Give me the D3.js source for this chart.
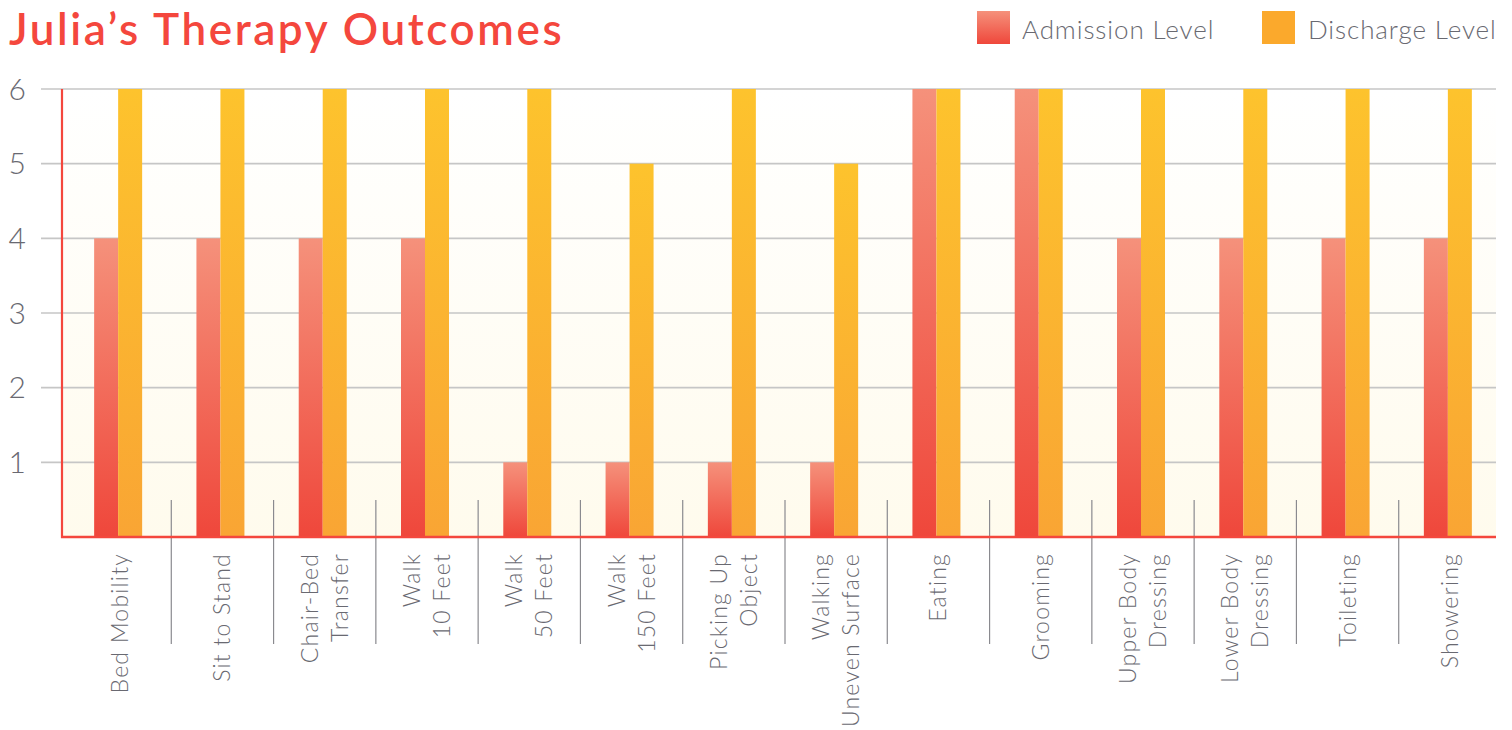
<!DOCTYPE html>
<html>
<head>
<meta charset="utf-8">
<script src="https://cdn.jsdelivr.net/npm/d3@7"></script>
<style>
  html, body { margin: 0; padding: 0; background: #ffffff; }
  svg { display: block; }
  text { font-family: Lato, "Noto Sans", sans-serif; }
</style>
</head>
<body>
<svg id="chart" width="1512" height="730"></svg>
<script>
const categories = [
  ["Bed Mobility"], ["Sit to Stand"], ["Chair-Bed", "Transfer"], ["Walk", "10  Feet"],
  ["Walk", "50 Feet"], ["Walk", "150 Feet"], ["Picking Up", "Object"], ["Walking", "Uneven Surface"],
  ["Eating"], ["Grooming"], ["Upper Body", "Dressing"], ["Lower Body", "Dressing"],
  ["Toileting"], ["Showering"]
];
const admission = [4, 4, 4, 4, 1, 1, 1, 1, 6, 6, 4, 4, 4, 4];
const discharge = [6, 6, 6, 6, 6, 5, 6, 5, 6, 6, 6, 6, 6, 6];
const seriesNames = ["Admission Level", "Discharge Level"];
const yTicks = [1, 2, 3, 4, 5, 6];

const svg = d3.select("#chart");
const plotLeft = 62, plotRight = 1496, plotTop = 89, plotBottom = 537;
const keys = categories.map((c, i) => i);

const y = d3.scaleLinear().domain([0, 6]).range([plotBottom, plotTop]);
const x0 = d3.scaleBand().domain(keys).range([69, 1501]);
const x1 = d3.scaleBand().domain(seriesNames).range([0, 48]);
const groupOffset = (x0.bandwidth() - 48) / 2 - 2;

const defs = svg.append("defs");
const bg = defs.append("linearGradient").attr("id", "bg").attr("x1", 0).attr("y1", 0).attr("x2", 0).attr("y2", 1);
bg.append("stop").attr("offset", "0%").attr("stop-color", "#ffffff");
bg.append("stop").attr("offset", "100%").attr("stop-color", "#fffbed");
const ga = defs.append("linearGradient").attr("id", "gA").attr("x1", 0).attr("y1", 0).attr("x2", 0).attr("y2", 1);
ga.append("stop").attr("offset", "0%").attr("stop-color", "#f5917b");
ga.append("stop").attr("offset", "100%").attr("stop-color", "#ef473b");
const gd = defs.append("linearGradient").attr("id", "gD").attr("x1", 0).attr("y1", 0).attr("x2", 0).attr("y2", 1);
gd.append("stop").attr("offset", "0%").attr("stop-color", "#fdc32d");
gd.append("stop").attr("offset", "100%").attr("stop-color", "#f9a534");

// background
svg.append("rect").attr("x", plotLeft).attr("y", plotTop)
  .attr("width", plotRight - plotLeft).attr("height", plotBottom - plotTop)
  .attr("fill", "url(#bg)");

// gridlines
svg.append("g").selectAll("line").data(yTicks).join("line")
  .attr("x1", 41).attr("x2", plotRight)
  .attr("y1", d => y(d)).attr("y2", d => y(d))
  .attr("stroke", "#c6c6c6").attr("stroke-width", 1.6);

// y labels
svg.append("g").selectAll("text").data(yTicks).join("text")
  .attr("x", 26).attr("y", d => y(d)).attr("dy", "0.36em")
  .attr("text-anchor", "end").attr("font-size", 30).attr("font-weight", 300)
  .attr("fill", "#696971").text(d => d);

// separators
svg.append("g").selectAll("line").data(keys.slice(1)).join("line")
  .attr("x1", d => x0(d)).attr("x2", d => x0(d))
  .attr("y1", 500).attr("y2", 644)
  .attr("stroke", "#8a8a8f").attr("stroke-width", 1.2);

// bars
const groups = svg.append("g").selectAll("g").data(keys).join("g")
  .attr("transform", d => `translate(${x0(d) + groupOffset},0)`);
groups.append("rect")
  .attr("x", x1("Admission Level")).attr("width", x1.bandwidth())
  .attr("y", d => y(admission[d])).attr("height", d => y(0) - y(admission[d]))
  .attr("fill", "url(#gA)");
groups.append("rect")
  .attr("x", x1("Discharge Level")).attr("width", x1.bandwidth())
  .attr("y", d => y(discharge[d])).attr("height", d => y(0) - y(discharge[d]))
  .attr("fill", "url(#gD)");

// axis lines
svg.append("line").attr("x1", plotLeft).attr("x2", plotLeft).attr("y1", plotTop).attr("y2", plotBottom + 1)
  .attr("stroke", "#f4473d").attr("stroke-width", 2.2);
svg.append("line").attr("x1", plotLeft - 1).attr("x2", plotRight).attr("y1", plotBottom).attr("y2", plotBottom)
  .attr("stroke", "#f4473d").attr("stroke-width", 2.4);

// category labels
const lab = svg.append("g").selectAll("g").data(keys).join("g")
  .attr("transform", d => `translate(${x0(d) + x0.bandwidth() / 2},553) rotate(-90)`);
lab.each(function(d) {
  const lines = categories[d];
  const n = lines.length;
  d3.select(this).selectAll("text").data(lines).join("text")
    .attr("x", 0).attr("y", (t, i) => (i - (n - 1) / 2) * 30)
    .attr("dy", "0.35em")
    .attr("text-anchor", "end").attr("font-size", 23).attr("font-weight", 300)
    .attr("letter-spacing", 1.2)
    .attr("fill", "#696971").text(t => t);
});

// title
svg.append("text").attr("x", 9).attr("y", 45)
  .attr("font-size", 44).attr("font-weight", 600).attr("fill", "#f4473d")
  .attr("letter-spacing", 2.6)
  .text("Julia’s Therapy Outcomes");

// legend
const legend = [
  { name: seriesNames[0], fill: "url(#gA)", x: 977, tx: 1022 },
  { name: seriesNames[1], fill: "#fba92c", x: 1262, tx: 1308 }
];
const lg = svg.append("g").selectAll("g").data(legend).join("g");
lg.append("rect").attr("x", d => d.x).attr("y", 11).attr("width", 33).attr("height", 33).attr("fill", d => d.fill);
lg.append("text").attr("x", d => d.tx).attr("y", 39).attr("font-size", 26).attr("font-weight", 300)
  .attr("letter-spacing", 0.9)
  .attr("fill", "#696971").text(d => d.name);
</script>
</body>
</html>
